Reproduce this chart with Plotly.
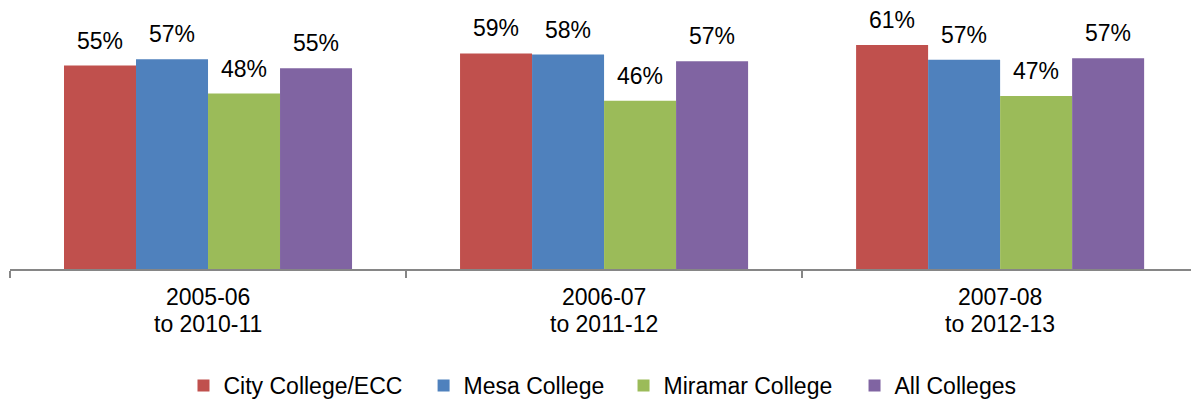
import plotly.graph_objects as go

# Six-year completion rates by college cohort
periods_start = ["2005-06", "2006-07", "2007-08"]
periods_end = ["2010-11", "2011-12", "2012-13"]
categories = [f"{a} to {b}" for a, b in zip(periods_start, periods_end)]

series_names = ["City College/ECC", "Mesa College", "Miramar College", "All Colleges"]
city = [55.4, 58.7, 61.0]
mesa = [57.1, 58.4, 57.0]
miramar = [47.8, 45.8, 47.1]
all_colleges = [54.7, 56.6, 57.4]
series_values = [city, mesa, miramar, all_colleges]
colors = ["#C0504D", "#4F81BD", "#9BBB59", "#8064A2"]

FONT = "Liberation Sans, Arial, sans-serif"
W, H = 1191, 402
ML, MR, MT, MB = 10, 0, 12, 133
BARGAP = 0.2727
X_RANGE = [-0.5, 2.482]
Y_RANGE = [0, 70]

# left edge (paper fraction) of each legend entry
legend_x = [0.1469, 0.3502, 0.5195, 0.7151]
legend_ids = ["legend", "legend2", "legend3", "legend4"]

fig = go.Figure()
for name, vals, col, lid in zip(series_names, series_values, colors, legend_ids):
    fig.add_trace(go.Bar(
        x=categories, y=vals, name=name, legend=lid,
        marker=dict(color=col, line=dict(width=0)),
        hoverinfo="skip",
    ))

# pixel width of a single bar, derived from the layout
plot_w = W - ML - MR
cat_px = plot_w / (X_RANGE[1] - X_RANGE[0])
bar_px = cat_px * (1 - BARGAP) / len(series_names)

annotations = []
n = len(series_names)
for i, vals in enumerate(series_values):
    for cat, v in zip(categories, vals):
        annotations.append(dict(
            x=cat, y=v, xref="x", yref="y",
            text=f"{round(v)}%", showarrow=False,
            xanchor="center", yanchor="bottom",
            xshift=(i - (n - 1) / 2) * bar_px, yshift=10,
            font=dict(family=FONT, size=23, color="#000000"),
        ))

# two-line category labels under the axis
for cat, a, b in zip(categories, periods_start, periods_end):
    annotations.append(dict(
        x=cat, y=0, xref="x", yref="paper", text=a, showarrow=False,
        xanchor="center", yanchor="top", yshift=-14, borderpad=0,
        font=dict(family=FONT, size=23, color="#000000"),
    ))
    annotations.append(dict(
        x=cat, y=0, xref="x", yref="paper", text=f"to {b}", showarrow=False,
        xanchor="center", yanchor="top", yshift=-41, borderpad=0,
        font=dict(family=FONT, size=23, color="#000000"),
    ))

legend_style = dict(
    orientation="h", xanchor="left", yref="container", y=0.0945, yanchor="top",
    font=dict(family=FONT, size=23, color="#000000"),
    itemwidth=30, bgcolor="rgba(0,0,0,0)",
    itemclick=False, itemdoubleclick=False,
)
legends = {lid: dict(legend_style, x=lx) for lid, lx in zip(legend_ids, legend_x)}

fig.update_layout(
    width=W, height=H,
    margin=dict(l=ML, r=MR, t=MT, b=MB, pad=0, autoexpand=False),
    barmode="group", bargap=BARGAP, bargroupgap=0,
    plot_bgcolor="white", paper_bgcolor="white",
    font=dict(family=FONT, size=23, color="#000000"),
    showlegend=True,
    xaxis=dict(
        range=X_RANGE, showticklabels=False,
        showline=True, linecolor="#868686", linewidth=2,
        ticks="outside", tickson="boundaries", ticklen=7, tickwidth=2,
        tickcolor="#868686", showgrid=False, zeroline=False, fixedrange=True,
    ),
    yaxis=dict(
        range=Y_RANGE, visible=False, showgrid=False, zeroline=False,
        fixedrange=True,
    ),
    annotations=annotations,
    **legends,
)

fig.write_html("out.html", config={"displayModeBar": False})
